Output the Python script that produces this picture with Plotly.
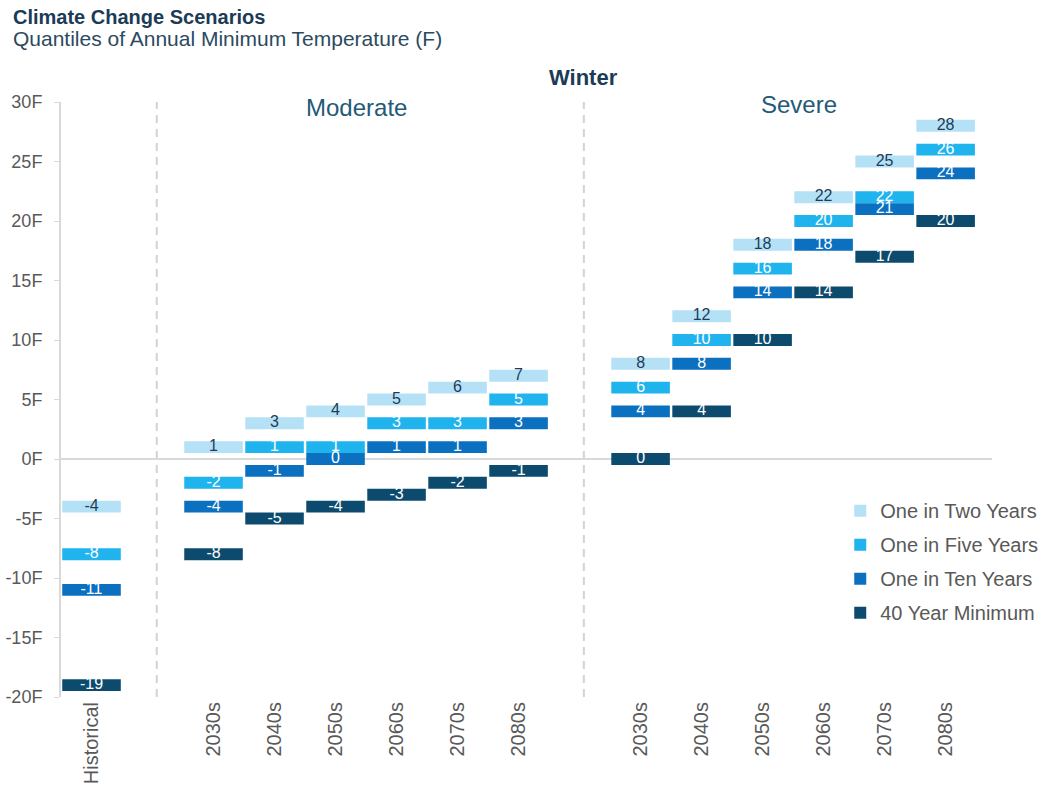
import plotly.graph_objects as go

# Category labels along the x axis
periods = ["2030s", "2040s", "2050s", "2060s", "2070s", "2080s"]
categories = ["Historical"] + periods + periods
# slot index of each category (empty slots separate the groups)
slots = [0] + list(range(2, 8)) + list(range(9, 15))

series_names = ["One in Two Years", "One in Five Years", "One in Ten Years", "40 Year Minimum"]

# Historical, Moderate 2030s-2080s, Severe 2030s-2080s  (deg F)
one_in_two = [-4, 1, 3, 4, 5, 6, 7, 8, 12, 18, 22, 25, 28]
one_in_five = [-8, -2, 1, 1, 3, 3, 5, 6, 10, 16, 20, 22, 26]
one_in_ten = [-11, -4, -1, 0, 1, 1, 3, 4, 8, 14, 18, 21, 24]
min_40yr = [-19, -8, -5, -4, -3, -2, -1, 0, 4, 10, 14, 17, 20]

y_ticks = [-20, -15, -10, -5, 0, 5, 10, 15, 20, 25, 30]
y_tick_text = [f"{v}F" for v in y_ticks]

colors = ["#b5e1f7", "#1fb4ee", "#0b70c0", "#0d4b6e"]
label_colors = ["#1d3c56", "white", "white", "white"]

FONT = "Liberation Sans, Arial, sans-serif"
BOX_H = 1.0  # height of each marker box in degrees

fig = go.Figure()

all_series = [one_in_two, one_in_five, one_in_ten, min_40yr]
for name, vals, col in zip(series_names, all_series, colors):
    fig.add_trace(go.Bar(
        x=slots,
        y=[BOX_H] * len(vals),
        base=[v - BOX_H / 2 for v in vals],
        width=0.96,
        marker=dict(color=col, line=dict(width=0)),
        name=name,
        legendgroup=name,
        hoverinfo="skip",
    ))

for vals, tcol in zip(all_series, label_colors):
    fig.add_trace(go.Scatter(
        x=slots,
        y=vals,
        mode="text",
        text=[str(v) for v in vals],
        textposition="middle center",
        textfont=dict(family=FONT, size=16, color=tcol),
        showlegend=False,
        hoverinfo="skip",
    ))

# dashed separators between Historical / Moderate / Severe
for xs in (1.07, 8.07):
    fig.add_shape(type="line", xref="x", yref="y", x0=xs, x1=xs, y0=-20, y1=30,
                  line=dict(color="#d3d3d3", width=2, dash="8px,6px"), layer="below")

annotations = [
    dict(text="<b>Climate Change Scenarios</b>", x=-0.0537, y=1.1436, xref="paper", yref="paper",
         xanchor="left", yanchor="middle", showarrow=False,
         font=dict(family=FONT, size=20, color="#1b3b57")),
    dict(text="Quantiles of Annual Minimum Temperature (F)", x=-0.0537, y=1.1066, xref="paper", yref="paper",
         xanchor="left", yanchor="middle", showarrow=False,
         font=dict(family=FONT, size=21, color="#2c4a60")),
    dict(text="<b>Winter</b>", x=0.5607, y=1.042, xref="paper", yref="paper",
         xanchor="center", yanchor="middle", showarrow=False,
         font=dict(family=FONT, size=22, color="#1b3b57")),
    dict(text="Moderate", x=4.35, y=29.5, xref="x", yref="y",
         xanchor="center", yanchor="middle", showarrow=False,
         font=dict(family=FONT, size=24, color="#235a77")),
    dict(text="Severe", x=11.6, y=29.8, xref="x", yref="y",
         xanchor="center", yanchor="middle", showarrow=False,
         font=dict(family=FONT, size=24, color="#235a77")),
]

fig.update_layout(
    width=1050, height=794,
    margin=dict(l=61, r=58, t=102, b=97, autoexpand=False),
    paper_bgcolor="white", plot_bgcolor="white",
    barmode="overlay",
    showlegend=True,
    legend=dict(x=0.837, y=0.346, xanchor="left", yanchor="top",
                font=dict(family=FONT, size=20, color="#595959"),
                itemwidth=30, tracegroupgap=5, traceorder="grouped",
                bgcolor="rgba(0,0,0,0)"),
    annotations=annotations,
    font=dict(family=FONT),
)

fig.update_xaxes(
    range=[-0.5, 14.76], automargin=False,
    tickmode="array", tickvals=slots, ticktext=categories,
    tickangle=-90, tickfont=dict(family=FONT, size=20, color="#595959"),
    showgrid=False, zeroline=False, showline=False, ticks="",
)

fig.update_yaxes(
    range=[-20, 30], automargin=False,
    tickmode="array", tickvals=y_ticks, ticktext=y_tick_text,
    tickfont=dict(family=FONT, size=18, color="#595959"),
    showgrid=False,
    zeroline=True, zerolinecolor="#d9d9d9", zerolinewidth=2,
    showline=True, linecolor="#d9d9d9", linewidth=2,
    ticks="outside", ticklen=5, tickcolor="#d9d9d9", tickwidth=1,
    ticklabelstandoff=8,
)

fig.write_html("out.html")
